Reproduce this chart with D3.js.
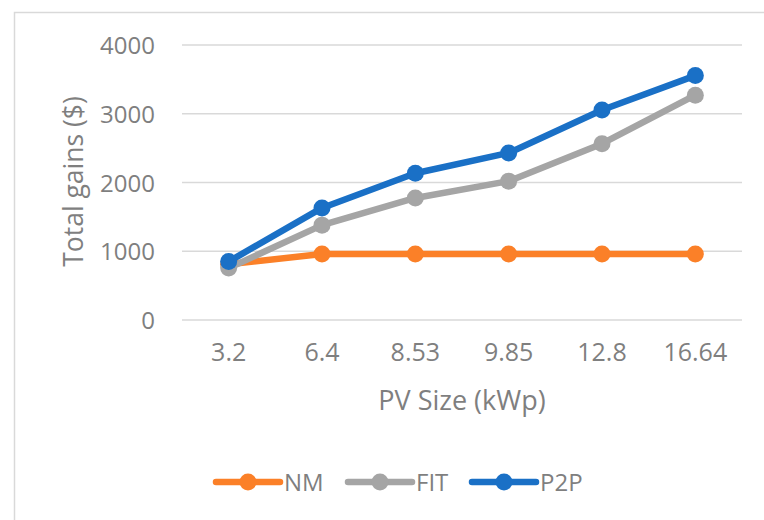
<!DOCTYPE html>
<html>
<head>
<meta charset="utf-8">
<script src="https://cdn.jsdelivr.net/npm/d3@7"></script>
<style>
  body { margin: 0; background: #fff; }
  svg text { font-family: "Open Sans", sans-serif; fill: #7f7f7f; }
</style>
</head>
<body>
<div class="chart"></div>
<script>
const sizes = ['3.2', '6.4', '8.53', '9.85', '12.8', '16.64'];
const nm = [810, 960, 960, 960, 960, 960];
const fit = [755, 1380, 1775, 2020, 2565, 3270];
const p2p = [850, 1630, 2135, 2430, 3055, 3555];
const yTicks = [0, 1000, 2000, 3000, 4000];

const series = [
	{name: 'NM', values: nm, color: '#fb8028'},
	{name: 'FIT', values: fit, color: '#a5a5a5'},
	{name: 'P2P', values: p2p, color: '#1a70c6'}
];

const margin = ({top: 45, right: 22, bottom: 200, left: 182});
const width = 764 - margin.left - margin.right;
const height = 520 - margin.top - margin.bottom;

const root = d3.select('.chart').append('svg')
		.attr('width', 764)
		.attr('height', 520);

root.append('rect')
	.attr('x', 14.5)
	.attr('y', 12.5)
	.attr('width', 800)
	.attr('height', 600)
	.attr('fill', 'none')
	.attr('stroke', '#d9d9d9')
	.attr('stroke-width', 1.5);

const svg = root.append('g')
		.attr('transform', 'translate(' + margin.left + ',' + margin.top + ')');

const xScale = d3.scaleBand()
		.domain(sizes)
		.range([0, width]);

const yScale = d3.scaleLinear()
		.domain([0, 4000])
		.range([height, 0]);

// gridlines
svg.selectAll('.grid')
	.data(yTicks)
	.enter()
	.append('line')
	.attr('class', 'grid')
	.attr('x1', 0)
	.attr('x2', width)
	.attr('y1', d => yScale(d))
	.attr('y2', d => yScale(d))
	.attr('stroke', '#d9d9d9')
	.attr('stroke-width', 1.5);

const yAxis = d3.axisLeft(yScale)
	.tickValues(yTicks)
	.tickFormat(d3.format('d'))
	.tickSize(0)
	.tickPadding(27);

const xAxis = d3.axisBottom(xScale)
	.tickSize(0)
	.tickPadding(23);

svg.append('g')
	.attr('class', 'axis y-axis')
	.call(yAxis)
	.call(g => g.select('.domain').remove())
	.selectAll('text')
	.attr('font-size', 24)
	.attr('dy', '0.36em');

svg.append('g')
	.attr('class', 'axis x-axis')
	.attr('transform', `translate(0, ${height})`)
	.call(xAxis)
	.call(g => g.select('.domain').remove())
	.selectAll('text')
	.attr('font-size', 25);

root.selectAll('.axis text').attr('fill', '#7f7f7f').attr('font-family', '"Open Sans", sans-serif');

// axis titles
root.append('text')
	.attr('transform', 'translate(83,' + (margin.top + height / 2 - 1) + ') rotate(-90)')
	.attr('text-anchor', 'middle')
	.attr('font-size', 26.5)
	.text('Total gains ($)');

root.append('text')
	.attr('x', margin.left + width / 2)
	.attr('y', 410)
	.attr('text-anchor', 'middle')
	.attr('font-size', 27)
	.text('PV Size (kWp)');

const line = d3.line()
	.x((d, i) => xScale(sizes[i]) + xScale.bandwidth() / 2)
	.y(d => yScale(d));

series.forEach(s => {
	svg.append('path')
		.datum(s.values)
		.attr('fill', 'none')
		.attr('stroke', s.color)
		.attr('stroke-width', 6.5)
		.attr('stroke-linejoin', 'round')
		.attr('d', line);

	svg.selectAll('.pt-' + s.name)
		.data(s.values)
		.enter()
		.append('circle')
		.attr('cx', (d, i) => xScale(sizes[i]) + xScale.bandwidth() / 2)
		.attr('cy', d => yScale(d))
		.attr('r', 8.5)
		.attr('fill', s.color);
});

// legend
const legendX = [216, 348, 472];
const legend = root.selectAll('.legend')
	.data(series)
	.enter()
	.append('g')
	.attr('class', 'legend')
	.attr('transform', (d, i) => `translate(${legendX[i]}, 482)`);

legend.append('line')
	.attr('x1', 0)
	.attr('x2', 64)
	.attr('stroke', d => d.color)
	.attr('stroke-width', 6.5)
	.attr('stroke-linecap', 'round');

legend.append('circle')
	.attr('cx', 32)
	.attr('r', 8.5)
	.attr('fill', d => d.color);

legend.append('text')
	.attr('x', 68)
	.attr('dy', '0.36em')
	.attr('font-size', 24)
	.text(d => d.name);
</script>
</body>
</html>
